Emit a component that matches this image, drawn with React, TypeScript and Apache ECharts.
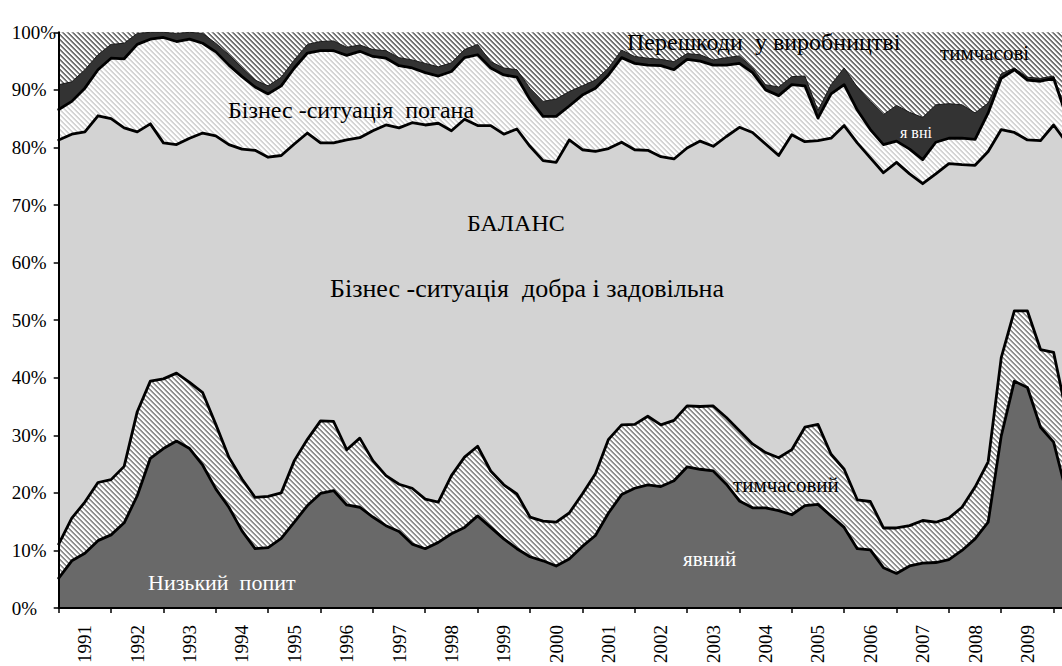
import React, { useEffect, useRef } from "react";
import * as echarts from "echarts";

// quarterly categories, 1991 Q1 .. 2010 Q2 (the last one is cut by the picture edge)
const years = [1991, 1992, 1993, 1994, 1995, 1996, 1997, 1998, 1999, 2000, 2001, 2002, 2003, 2004, 2005, 2006, 2007, 2008, 2009, 2010];
const quarters = ["I", "II", "III", "IV"];
const pointCount = 78;
const categories = years.flatMap((y) => quarters.map((q) => `${y} ${q}`)).slice(0, pointCount);

// cumulative levels (% of firms): upper edge of each band
const lowDemandExplicit = [
  5.2, 8.2, 9.5, 11.7, 12.7, 14.8, 19.5, 26.0, 27.7, 29.0, 27.7, 24.8, 20.7, 17.5, 13.4, 10.3, 10.5, 12.1, 14.9, 17.8,
  19.9, 20.4, 17.9, 17.5, 15.8, 14.3, 13.3, 11.1, 10.3, 11.4, 12.9, 14.0, 16.0, 14.0, 12.0, 10.3, 8.9, 8.2, 7.3, 8.5,
  10.7, 12.6, 16.5, 19.7, 20.8, 21.4, 21.1, 22.1, 24.5, 24.1, 23.8, 21.5, 18.6, 17.4, 17.4, 16.9, 16.2, 17.8, 18.0, 16.0,
  14.0, 10.3, 10.1, 7.0, 6.0, 7.3, 7.8, 7.9, 8.4, 10.0, 12.0, 14.9, 29.9, 39.4, 38.3, 31.4, 28.8, 19.8,
];
const lowDemandTemporary = [
  11.1, 15.6, 18.4, 21.8, 22.3, 24.6, 34.1, 39.4, 39.8, 40.8, 39.2, 37.4, 31.9, 26.2, 22.4, 19.2, 19.4, 20.0, 25.6, 29.3,
  32.5, 32.4, 27.5, 29.5, 25.6, 23.0, 21.5, 20.8, 18.9, 18.4, 23.0, 26.2, 28.1, 23.8, 21.4, 19.8, 15.8, 15.1, 14.9, 16.5,
  19.8, 23.3, 29.3, 31.8, 31.9, 33.3, 31.8, 32.6, 35.1, 35.0, 35.1, 33.1, 30.8, 28.5, 27.0, 26.1, 27.5, 31.4, 31.9, 26.7,
  24.1, 18.8, 18.5, 13.9, 13.9, 14.3, 15.2, 14.9, 15.6, 17.5, 21.0, 25.4, 43.5, 51.6, 51.6, 44.9, 44.4, 33.6,
];
const balanceGood = [
  81.3, 82.3, 82.7, 85.5, 85.0, 83.4, 82.7, 84.1, 80.8, 80.5, 81.6, 82.5, 82.0, 80.5, 79.7, 79.5, 78.3, 78.6, 80.6, 82.5,
  80.8, 80.8, 81.3, 81.7, 82.9, 83.9, 83.4, 84.3, 83.9, 84.2, 82.9, 84.9, 83.8, 83.8, 82.3, 83.2, 80.2, 77.7, 77.4, 81.3,
  79.6, 79.3, 79.8, 80.9, 79.6, 79.5, 78.4, 78.0, 79.9, 81.1, 80.2, 81.9, 83.5, 82.6, 80.6, 78.6, 82.2, 81.0, 81.2, 81.6,
  83.8, 80.8, 78.2, 75.6, 77.4, 75.4, 73.7, 75.4, 77.2, 77.0, 76.9, 79.3, 83.1, 82.6, 81.3, 81.2, 83.9, 80.8,
];
const situationBad = [
  86.6, 88.0, 90.3, 93.5, 95.5, 95.4, 97.9, 98.8, 99.1, 98.4, 98.8, 98.1, 96.6, 94.3, 92.3, 90.5, 89.3, 90.7, 93.8, 96.4,
  96.8, 96.8, 96.0, 96.7, 95.8, 95.5, 94.2, 93.8, 93.0, 92.4, 93.2, 95.6, 96.1, 93.8, 92.6, 92.2, 88.3, 85.4, 85.4, 87.2,
  89.1, 90.3, 92.6, 95.6, 94.6, 94.3, 94.2, 93.5, 95.3, 95.0, 94.3, 94.3, 94.6, 93.0, 90.0, 89.0, 90.9, 90.7, 85.1, 89.3,
  90.9, 86.5, 83.1, 80.5, 81.1, 79.7, 77.9, 80.9, 81.6, 81.6, 81.4, 86.0, 92.0, 93.5, 91.7, 91.5, 92.0, 85.3,
];
const obstaclesExplicit = [
  90.9, 91.4, 93.5, 96.1, 97.9, 98.1, 99.8, 100, 100, 99.8, 100, 99.8, 98.1, 96.1, 93.8, 91.7, 90.7, 92.2, 95.2, 97.9,
  98.4, 98.5, 97.4, 97.8, 97.0, 96.8, 95.6, 95.2, 94.6, 94.0, 94.7, 97.0, 97.9, 94.9, 93.8, 93.5, 90.3, 88.0, 88.4, 89.7,
  90.7, 91.7, 93.8, 96.9, 95.8, 95.5, 95.3, 94.9, 96.3, 96.1, 95.2, 95.6, 95.9, 93.8, 90.9, 90.5, 92.3, 92.4, 86.4, 90.9,
  93.8, 90.5, 88.0, 85.7, 87.3, 86.1, 85.2, 87.4, 87.6, 87.4, 86.0, 87.7, 92.8, 93.8, 92.2, 92.0, 92.4, 86.0,
];

const yTicks = { min: 0, max: 100, interval: 10 };

const annotations = [
  { text: "Перешкоди  у виробництві", x: 627, y: 41.9, size: 24, color: "#000" },
  { text: "тимчасові", x: 940, y: 52.9, size: 21, color: "#000" },
  { text: "Бізнес -ситуація  погана", x: 228, y: 109.9, size: 24, color: "#000" },
  { text: "БАЛАНС", x: 467, y: 222.9, size: 24, color: "#000" },
  { text: "Бізнес -ситуація  добра і задовільна", x: 330, y: 288.2, size: 26, color: "#000" },
  { text: "я вні", x: 900, y: 132.1, size: 16, color: "#fff" },
  { text: "тимчасовий", x: 733, y: 485.4, size: 21, color: "#000" },
  { text: "явний", x: 683, y: 558.9, size: 21, color: "#fff" },
  { text: "Низький  попит", x: 148, y: 582.6, size: 22, color: "#fff" },
];

const SERIF = "Liberation Serif, Times New Roman, serif";

function stripePattern(levels: number[]) {
  const n = levels.length;
  const c = document.createElement("canvas");
  c.width = n;
  c.height = n;
  const ctx = c.getContext("2d")!;
  const img = ctx.createImageData(n, n);
  for (let y = 0; y < n; y++) {
    for (let x = 0; x < n; x++) {
      const v = levels[(((x - y) % n) + n) % n];
      const k = (y * n + x) * 4;
      img.data[k] = v;
      img.data[k + 1] = v;
      img.data[k + 2] = v;
      img.data[k + 3] = 255;
    }
  }
  ctx.putImageData(img, 0, 0);
  return { image: c.toDataURL(), repeat: "repeat", imageWidth: n, imageHeight: n };
}

export default function App() {
  const ref = useRef<HTMLDivElement>(null);
  useEffect(() => {
    if (!ref.current) return;
    const chart = echarts.init(ref.current, undefined, { renderer: "svg" });
    const topHatch = stripePattern([0x74, 0x74, 0xff, 0xff, 0xc8]);
    const badHatch = stripePattern([0xd4, 0xd4, 0xff, 0xff, 0xf0]);
    const lowHatch = stripePattern([0x90, 0x90, 0xff, 0xff, 0xd8]);

    const area = (name: string, data: number[], fill: any, lineColor: string, lineWidth: number) => ({
      type: "line",
      name,
      data,
      symbol: "none",
      showSymbol: false,
      silent: true,
      lineStyle: { color: lineColor, width: lineWidth, join: "round", cap: "round" },
      areaStyle: { color: fill, opacity: 1, origin: "start" },
    });

    chart.setOption({
      animation: false,
      grid: {
        left: 58.7,
        right: 1080 - 1066.7,
        top: 32.3,
        bottom: 666 - 609.3,
        show: true,
        backgroundColor: topHatch,
        borderWidth: 0,
      },
      xAxis: {
        type: "category",
        data: categories,
        boundaryGap: false,
        z: 10,
        axisLine: { show: true, lineStyle: { color: "#000", width: 2 } },
        axisTick: {
          show: true,
          interval: (i: number) => i % 4 === 0,
          length: 5,
          lineStyle: { color: "#000", width: 1.5 },
        },
        axisLabel: {
          interval: (i: number) => i % 4 === 2,
          formatter: (v: string) => v.slice(0, 4),
          rotate: 90,
          margin: 17,
          padding: [5, 0, 0, 0],
          fontFamily: SERIF,
          fontSize: 19,
          color: "#000",
        },
        splitLine: { show: false },
      },
      yAxis: {
        type: "value",
        min: yTicks.min,
        max: yTicks.max,
        interval: yTicks.interval,
        z: 10,
        axisLine: { show: true, lineStyle: { color: "#000", width: 2 } },
        axisTick: { show: true, length: 5, lineStyle: { color: "#000", width: 1.5 } },
        axisLabel: {
          formatter: "{value}%",
          align: "left",
          margin: 47,
          fontFamily: SERIF,
          fontSize: 19,
          color: "#000",
        },
        splitLine: { show: false },
      },
      series: [
        area("Перешкоди у виробництві: явні", obstaclesExplicit, "#333333", "#1a1a1a", 1),
        area("Бізнес-ситуація погана", situationBad, badHatch, "#000", 2.8),
        area("Бізнес-ситуація добра і задовільна", balanceGood, "#d3d3d3", "#000", 2.8),
        area("Низький попит: тимчасовий", lowDemandTemporary, lowHatch, "#000", 2.8),
        area("Низький попит: явний", lowDemandExplicit, "#696969", "#000", 2.8),
      ],
      graphic: annotations.map((a) => ({
        type: "text",
        x: a.x,
        y: a.y,
        silent: true,
        z: 100,
        style: {
          text: a.text,
          font: `${a.size}px ${SERIF}`,
          fill: a.color,
          textAlign: "left",
          textVerticalAlign: "middle",
        },
      })),
    });
    return () => chart.dispose();
  }, []);

  return (
    <div style={{ position: "fixed", left: 0, top: 0, width: 1062, height: 666, overflow: "hidden", background: "#fff" }}>
      <div ref={ref} style={{ width: 1080, height: 666 }} />
    </div>
  );
}
